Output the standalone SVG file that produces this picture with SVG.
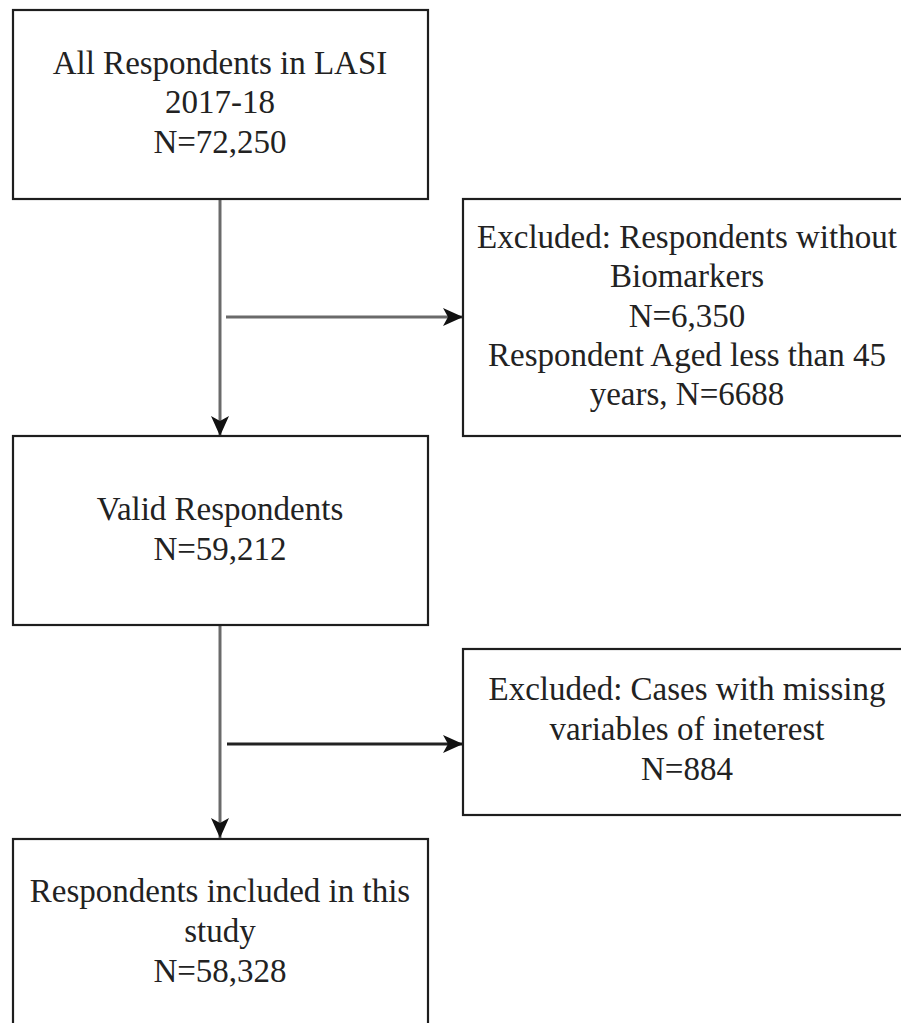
<svg xmlns="http://www.w3.org/2000/svg" width="901" height="1023" viewBox="0 0 901 1023">
<style>
.box{fill:#fff;stroke:#1e1e1e;stroke-width:2.2}
.t{font-family:"Liberation Serif","Times New Roman",serif;font-size:33px;fill:#222;text-anchor:middle}
.c{fill:none;stroke-width:3}
</style>
<defs>
<marker id="arr" viewBox="0 0 20 18" refX="20" refY="9" markerWidth="20" markerHeight="18" markerUnits="userSpaceOnUse" orient="auto">
<path d="M0,0 L20,9 L0,18 L5,9 Z" fill="#111"/>
</marker>
</defs>
<rect width="901" height="1023" fill="#fff"/>
<g id="connectors">
<line class="c" x1="220" y1="199" x2="220" y2="436" stroke="#6a6a6a" marker-end="url(#arr)"/>
<line class="c" x1="226" y1="317" x2="463" y2="317" stroke="#6a6a6a" marker-end="url(#arr)"/>
<line class="c" x1="220" y1="625" x2="220" y2="838" stroke="#6a6a6a" marker-end="url(#arr)"/>
<line class="c" x1="227" y1="744" x2="463" y2="744" stroke="#222" stroke-width="2.2" marker-end="url(#arr)"/>
</g>
<g id="node-all">
<rect class="box" x="13" y="10" width="415" height="189"/>
<text class="t" x="220" y="74">All Respondents in LASI</text>
<text class="t" x="220" y="113">2017-18</text>
<text class="t" x="220" y="153">N=72,250</text>
</g>
<g id="node-excluded1">
<rect class="box" x="463" y="199" width="448" height="237"/>
<text class="t" x="687" y="248">Excluded: Respondents without</text>
<text class="t" x="687" y="287">Biomarkers</text>
<text class="t" x="687" y="327">N=6,350</text>
<text class="t" x="687" y="366">Respondent Aged less than 45</text>
<text class="t" x="687" y="405">years, N=6688</text>
</g>
<g id="node-valid">
<rect class="box" x="13" y="436" width="415" height="189"/>
<text class="t" x="220" y="520">Valid Respondents</text>
<text class="t" x="220" y="560">N=59,212</text>
</g>
<g id="node-excluded2">
<rect class="box" x="463" y="649" width="448" height="166"/>
<text class="t" x="687" y="700">Excluded: Cases with missing</text>
<text class="t" x="687" y="740">variables of ineterest</text>
<text class="t" x="687" y="780">N=884</text>
</g>
<g id="node-included">
<rect class="box" x="13" y="839" width="415" height="200"/>
<text class="t" x="220" y="902">Respondents included in this</text>
<text class="t" x="220" y="942">study</text>
<text class="t" x="220" y="982">N=58,328</text>
</g>
</svg>
